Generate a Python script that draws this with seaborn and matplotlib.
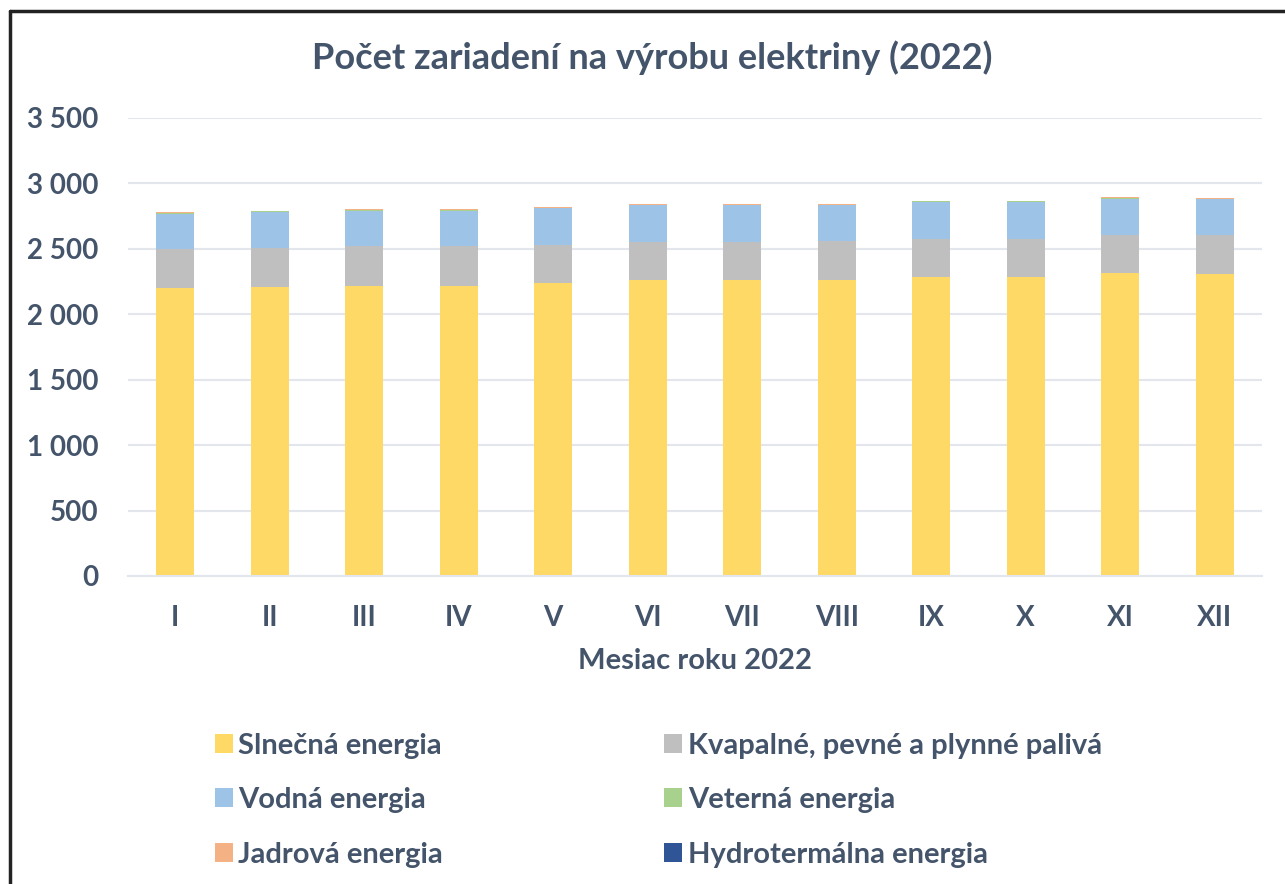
import numpy as np
import pandas as pd
import matplotlib
matplotlib.use("Agg")
import matplotlib.pyplot as plt
import seaborn as sns
from matplotlib.patches import Patch
from matplotlib.lines import Line2D
from matplotlib.ticker import FuncFormatter

months = ["I", "II", "III", "IV", "V", "VI", "VII", "VIII", "IX", "X", "XI", "XII"]
slnecna = [2201, 2208, 2216, 2216, 2237, 2262, 2262, 2261, 2285, 2285, 2316, 2308]
kvapalne = [296, 297, 306, 306, 291, 291, 291, 299, 289, 289, 291, 296]
vodna = [273, 278, 271, 271, 285, 279, 279, 272, 285, 285, 273, 276]
veterna = [3, 3, 6, 6, 3, 3, 3, 3, 3, 3, 8, 3]
jadrova = [6, 6, 4, 4, 5, 8, 8, 8, 5, 5, 5, 7]
hydro = [1, 1, 1, 1, 1, 1, 1, 1, 1, 1, 1, 1]

series = ["Slnečná energia", "Kvapalné, pevné a plynné palivá", "Vodná energia",
          "Veterná energia", "Jadrová energia", "Hydrotermálna energia"]
colors = ["#FFD966", "#BFBFBF", "#9DC3E6", "#A9D18E", "#F4B183", "#2F5597"]
txt = "#44546A"

df = pd.DataFrame({"mesiac": months, series[0]: slnecna, series[1]: kvapalne,
                   series[2]: vodna, series[3]: veterna, series[4]: jadrova,
                   series[5]: hydro})
cum = df[series].cumsum(axis=1)

sns.set_style("white")
plt.rcParams["font.family"] = ["Lato", "DejaVu Sans"]
plt.rcParams["font.weight"] = "bold"

fig = plt.figure(figsize=(12.85, 8.84), dpi=100)
ax = fig.add_axes([128 / 1285, 1 - 576 / 884, (1262 - 128) / 1285, (576 - 118) / 884])

# draw tallest first so lower layers sit on top
for name, col in reversed(list(zip(series, colors))):
    sns.barplot(x=df["mesiac"], y=cum[name], color=col, width=0.4,
                saturation=1, ax=ax, linewidth=0)

ax.set_ylim(0, 3500)
ax.set_yticks(range(0, 3501, 500))
ax.yaxis.set_major_formatter(FuncFormatter(lambda v, p: f"{int(v):,}".replace(",", " ")))
ax.grid(axis="y", color="#E3E6EC", linewidth=1.5)
ax.set_axisbelow(True)
for s in ["top", "right", "left"]:
    ax.spines[s].set_visible(False)
ax.spines["bottom"].set_color("#E3E6EC")
ax.spines["bottom"].set_linewidth(1.5)
ax.tick_params(axis="both", length=0, colors=txt, labelsize=20)
ax.tick_params(axis="y", pad=21)
ax.tick_params(axis="x", pad=21)
ax.set_ylabel("")
ax.set_xlabel("Mesiac roku 2022", fontsize=21, color=txt, labelpad=12, fontweight="bold")

fig.suptitle("Počet zariadení na výrobu elektriny (2022)", x=652 / 1285, y=1 - 40 / 884,
             fontsize=26, color=txt, fontweight="bold", va="top")

order = [0, 2, 4, 1, 3, 5]
handles = [Patch(facecolor=colors[i], edgecolor="none") for i in order]
labels = [series[i] for i in order]
fig.legend(handles, labels, ncol=2, loc="upper left",
           bbox_to_anchor=(200 / 1285, 1 - 718 / 884), frameon=False,
           fontsize=21, labelcolor=txt, handlelength=0.62, handleheight=0.62,
           handletextpad=0.2, columnspacing=7.57, labelspacing=0.98, borderpad=0)

fig.add_artist(Line2D([10 / 1285, 10 / 1285], [0, 1 - 11 / 884], color="#222222", lw=2.5))
fig.add_artist(Line2D([10 / 1285, 1], [1 - 11 / 884, 1 - 11 / 884], color="#222222", lw=2.5))

fig.savefig("out.png", dpi=100, facecolor="white")
